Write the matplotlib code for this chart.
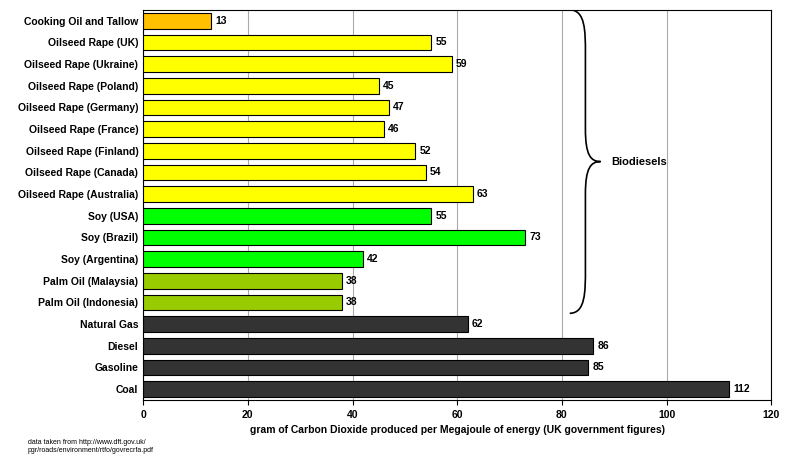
import matplotlib
matplotlib.use("Agg")
import matplotlib.pyplot as plt
from matplotlib.path import Path
from matplotlib.patches import PathPatch

plt.rcParams["font.family"] = "Liberation Sans"
plt.rcParams["font.weight"] = "bold"

labels = ["Cooking Oil and Tallow", "Oilseed Rape (UK)", "Oilseed Rape (Ukraine)",
          "Oilseed Rape (Poland)", "Oilseed Rape (Germany)", "Oilseed Rape (France)",
          "Oilseed Rape (Finland)", "Oilseed Rape (Canada)", "Oilseed Rape (Australia)",
          "Soy (USA)", "Soy (Brazil)", "Soy (Argentina)", "Palm Oil (Malaysia)",
          "Palm Oil (Indonesia)", "Natural Gas", "Diesel", "Gasoline", "Coal"]
values = [13, 55, 59, 45, 47, 46, 52, 54, 63, 55, 73, 42, 38, 38, 62, 86, 85, 112]
colors = (["#FFC000"] + ["#FFFF00"] * 8 + ["#00FF00"] * 3 + ["#99CC00"] * 2
          + ["#333333"] * 4)

fig = plt.figure(figsize=(8, 4.7), dpi=100)
ax = fig.add_axes([0.179, 0.149, 0.785, 0.830])
y = range(len(labels))
ax.barh(y, values, height=0.72, color=colors, edgecolor="black", linewidth=0.8, zorder=3)
for i, v in enumerate(values):
    ax.text(v + 0.8, i, str(v), va="center", ha="left", fontsize=7.5, fontweight="bold")

ax.set_yticks(list(y))
ax.set_yticklabels(labels, fontsize=7.5)
ax.set_ylim(len(labels) - 0.5, -0.5)
ax.set_xlim(0, 120)
ax.set_xticks(range(0, 121, 20))
ax.tick_params(axis="x", labelsize=7.5)
ax.tick_params(axis="y", length=0)
ax.xaxis.grid(True, color="#aaaaaa", linewidth=0.8, zorder=0)
ax.set_xlabel("gram of Carbon Dioxide produced per Megajoule of energy (UK government figures)",
              fontsize=7.5, fontweight="bold")

# brace
verts = [(81.5, -0.5), (84.5, -0.5), (84.5, 0.5), (84.5, 1.5),
         (84.5, 5.0),
         (84.5, 6.2), (85.5, 6.5), (87.4, 6.5),
         (85.5, 6.5), (84.5, 6.8), (84.5, 8.0),
         (84.5, 11.5),
         (84.5, 12.5), (84.5, 13.5), (81.5, 13.5)]
codes = [Path.MOVETO, Path.CURVE4, Path.CURVE4, Path.CURVE4,
         Path.LINETO,
         Path.CURVE4, Path.CURVE4, Path.CURVE4,
         Path.CURVE4, Path.CURVE4, Path.CURVE4,
         Path.LINETO,
         Path.CURVE4, Path.CURVE4, Path.CURVE4]
ax.add_patch(PathPatch(Path(verts, codes), fill=False, lw=1.2, color="black", zorder=4))
ax.text(89.5, 6.5, "Biodiesels", va="center", ha="left", fontsize=8, fontweight="bold")

fig.text(0.035, 0.035, "data taken from http://www.dft.gov.uk/\npgr/roads/environment/rtfo/govrecrfa.pdf",
         fontsize=5, fontweight="normal", va="bottom")

fig.savefig("out.png", dpi=100)
